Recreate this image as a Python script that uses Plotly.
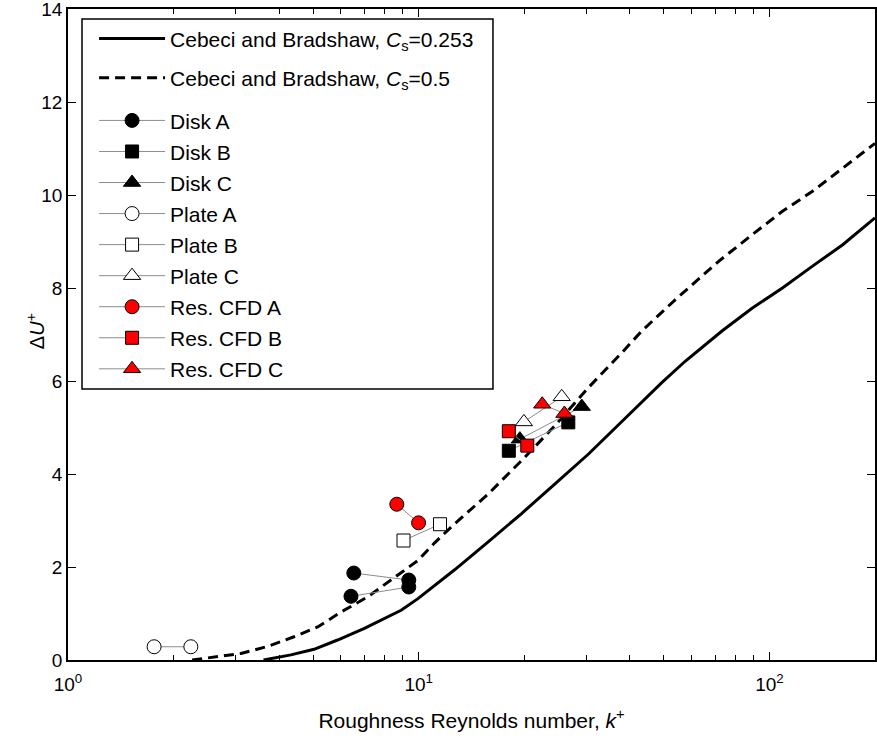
import plotly.graph_objects as go

# ---------------- data ----------------
k_cs0253 = [3.61, 4.32, 5.03, 5.87, 7.00, 7.98, 8.91, 9.95, 11.35, 12.66, 15.78, 19.65,
            24.47, 30.49, 37.96, 49.41, 57.62, 73.38, 89.42, 108.9, 132.7, 161.8, 200]
du_cs0253 = [0.0, 0.11, 0.23, 0.43, 0.68, 0.89, 1.07, 1.32, 1.65, 1.94, 2.54, 3.15,
             3.79, 4.43, 5.13, 5.97, 6.43, 7.08, 7.57, 8.00, 8.47, 8.93, 9.51]

k_cs05 = [2.26, 2.67, 3.11, 3.70, 4.41, 5.15, 6.00, 7.16, 8.34, 9.95, 11.10, 12.66, 15.78,
          19.65, 24.47, 30.49, 37.96, 43.31, 53.94, 71.80, 89.42, 108.9, 132.7, 161.8, 200]
du_cs05 = [0.0, 0.07, 0.14, 0.29, 0.50, 0.71, 1.03, 1.36, 1.72, 2.14, 2.52, 2.93, 3.57,
           4.29, 5.04, 5.86, 6.61, 7.08, 7.75, 8.58, 9.15, 9.65, 10.08, 10.58, 11.11]

disk_a_k = [6.53, 9.37, 9.37, 6.41]
disk_a_du = [1.87, 1.72, 1.57, 1.37]
disk_b_k = [18.07, 26.7]
disk_b_du = [4.50, 5.11]
disk_c_k = [19.43, 29.17]
disk_c_du = [4.75, 5.45]
plate_a_k = [1.76, 2.24]
plate_a_du = [0.285, 0.285]
plate_b_k = [9.05, 11.5]
plate_b_du = [2.57, 2.92]
plate_c_k = [19.95, 25.57]
plate_c_du = [5.12, 5.66]
cfd_a_k = [8.66, 9.99]
cfd_a_du = [3.35, 2.95]
cfd_b_k = [18.07, 20.4]
cfd_b_du = [4.92, 4.61]
cfd_c_k = [22.5, 26.03]
cfd_c_du = [5.50, 5.30]

x_tickvals = [1, 10, 100]
x_ticktext = ["10<sup>0</sup>", "10<sup>1</sup>", "10<sup>2</sup>"]
x_minor = [2, 3, 4, 5, 6, 7, 8, 9, 20, 30, 40, 50, 60, 70, 80, 90, 200]
y_tickvals = [0, 2, 4, 6, 8, 10, 12, 14]

FONT = "Liberation Sans, Arial, sans-serif"

fig = go.Figure()

fig.add_trace(go.Scatter(
    x=k_cs0253, y=du_cs0253, mode="lines",
    name="Cebeci and Bradshaw, <i>C</i><sub>s</sub>=0.253",
    line=dict(color="black", width=3), legend="legend", legendgroup="c1"))
fig.add_trace(go.Scatter(
    x=k_cs05, y=du_cs05, mode="lines",
    name="Cebeci and Bradshaw, <i>C</i><sub>s</sub>=0.5",
    line=dict(color="black", width=3, dash="10px,6px"), legend="legend", legendgroup="c2"))

series = [
    ("Disk A", disk_a_k, disk_a_du, "circle", "black", 14),
    ("Disk B", disk_b_k, disk_b_du, "square", "black", 13),
    ("Disk C", disk_c_k, disk_c_du, "triangle-up", "black", 15),
    ("Plate A", plate_a_k, plate_a_du, "circle", "white", 14),
    ("Plate B", plate_b_k, plate_b_du, "square", "white", 13),
    ("Plate C", plate_c_k, plate_c_du, "triangle-up", "white", 15),
    ("Res. CFD A", cfd_a_k, cfd_a_du, "circle", "#ff0000", 14),
    ("Res. CFD B", cfd_b_k, cfd_b_du, "square", "#ff0000", 13),
    ("Res. CFD C", cfd_c_k, cfd_c_du, "triangle-up", "#ff0000", 15),
]
for name, xs, ys, sym, col, sz in series:
    fig.add_trace(go.Scatter(
        x=xs, y=ys, mode="lines+markers", name=name,
        line=dict(color="#8c8c8c", width=1),
        marker=dict(symbol=sym, size=sz, color=col, line=dict(color="black", width=1)),
        legend="legend2", legendgroup=name))

axis_common = dict(
    showline=True, linecolor="black", linewidth=1.5, mirror="ticks",
    ticks="inside", tickcolor="black", tickwidth=1.2, showgrid=False, zeroline=False,
    tickfont=dict(family=FONT, size=19, color="black"), ticklabeloverflow="allow",
)

fig.update_xaxes(
    type="log", range=[0, 2.30103], tickmode="array",
    tickvals=x_tickvals, ticktext=x_ticktext, ticklen=8, ticklabelstandoff=6,
    minor=dict(ticks="inside", ticklen=5, tickcolor="black", tickwidth=1.2,
               tickmode="array", tickvals=x_minor, showgrid=False),
    title=dict(text="Roughness Reynolds number, <i>k</i><sup>+</sup>",
               font=dict(family=FONT, size=21, color="black"), standoff=20),
    **axis_common)
fig.update_yaxes(
    range=[0, 14], tickmode="array", tickvals=y_tickvals, ticklen=8,
    **axis_common)

legend_common = dict(
    xanchor="left", yanchor="top", bgcolor="rgba(0,0,0,0)", borderwidth=0,
    font=dict(family=FONT, size=21, color="black"), itemwidth=66,
    traceorder="grouped", itemclick=False, itemdoubleclick=False,
)

fig.update_layout(
    width=877, height=738,
    margin=dict(l=68, r=2, t=9, b=78, autoexpand=False),
    paper_bgcolor="white", plot_bgcolor="white",
    showlegend=True,
    legend=dict(x=0.0323, y=0.9856, tracegroupgap=9, **legend_common),
    legend2=dict(x=0.0323, y=0.8598, tracegroupgap=0.75, **legend_common),
    shapes=[dict(type="rect", xref="paper", yref="paper",
                 x0=0.01735, x1=0.5266, y0=0.4163, y1=0.9846,
                 line=dict(color="black", width=1.5), fillcolor="rgba(0,0,0,0)",
                 layer="above")],
    annotations=[dict(text="Δ<i>U</i><sup>+</sup>", xref="paper", yref="paper",
                      x=-0.041, y=0.505, xanchor="center", yanchor="middle",
                      textangle=-90, showarrow=False,
                      font=dict(family=FONT, size=20, color="black"))],
)

fig.write_html("out.html", config={"displayModeBar": False},
               post_script="document.body.style.margin='0';")
